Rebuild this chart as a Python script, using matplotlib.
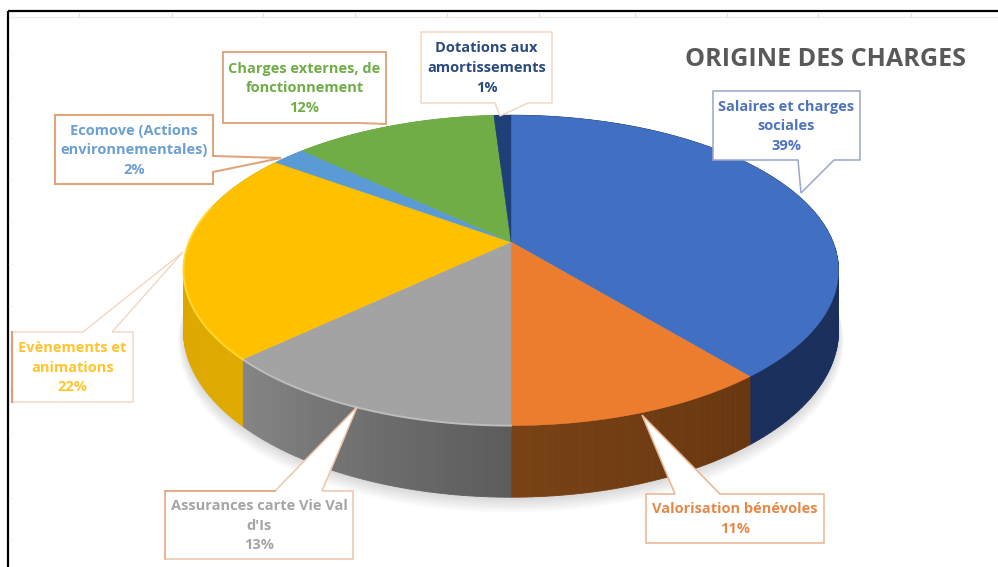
import numpy as np
import matplotlib
matplotlib.use("Agg")
import matplotlib.pyplot as plt
from matplotlib.colors import to_rgb
from matplotlib.patches import Polygon

categories = ["Salaires et charges\nsociales", "Valorisation bénévoles",
              "Assurances carte Vie Val\nd'Is", "Evènements et\nanimations",
              "Ecomove (Actions\nenvironnementales)", "Charges externes, de\nfonctionnement",
              "Dotations aux\namortissements"]
shares = [39, 11, 13, 22, 2, 12, 1]
top_colors = ["#4170C2", "#ED7D2E", "#A3A3A3", "#FFC000", "#5B9BD5", "#70AD47", "#1F3F78"]
text_colors = ["#4F74BC", "#E5894A", "#A5A5A5", "#FFC42E", "#6C9FD4", "#70AD47", "#2B4A80"]
side_start = ["#1A2F5C", "#683710", "#5C5C5C", "#E0AB00", "#5B9BD5", "#70AD47", "#1F3F78"]
side_end = ["#1A2F5C", "#7A4216", "#868686", "#D8A400", "#5B9BD5", "#70AD47", "#1F3F78"]
title = "ORIGINE DES CHARGES"

W, H = 998, 567
CX, CY, RX, RY, K, DROP = 511, 242, 322, 150, 0.183, 58.5


def project(theta, drop=0.0, scale=1.0):
    X, Y = np.sin(theta) * scale, np.cos(theta) * scale
    w = 1 + K * Y
    return CX + RX * X / w, CY - RY * Y / w + drop / w


fig = plt.figure(figsize=(W / 100, H / 100), dpi=100)
ax = fig.add_axes([0, 0, 1, 1])
ax.set_xlim(0, W)
ax.set_ylim(H, 0)
ax.axis("off")
FONT = "Open Sans"

# worksheet behind the chart
ax.plot([8, W], [11, 11], color="black", lw=1.6, solid_capstyle="butt", zorder=1)
ax.plot([8, 8], [11, H], color="black", lw=1.6, solid_capstyle="butt", zorder=1)
ax.plot([10, W], [16.5, 16.5], color="#EBEBEB", lw=0.9, zorder=1)
for gx in [79, 172, 263, 355, 447, 539, 635, 727, 818, 911]:
    ax.plot([gx, gx], [12, 17], color="#E4E4E4", lw=0.8, zorder=1)
for gy in [54, 97, 138, 180, 222, 264, 306, 348, 390, 433, 498, 540]:
    ax.plot([9, 13], [gy, gy], color="#F2F2F2", lw=0.8, zorder=1)

# soft shadow
full = np.linspace(0, 2 * np.pi, 361)
for i in range(8):
    sx, sy = project(full, drop=DROP + 1 + i * 1.2, scale=1.0 + i * 0.0022)
    ax.fill(sx, sy, color="black", alpha=0.018, lw=0, zorder=2)

edges = np.concatenate([[0], np.cumsum(shares)]) / np.sum(shares) * 2 * np.pi

# rim of the disc
for lo, hi, c0, c1 in zip(edges[:-1], edges[1:], side_start, side_end):
    n = max(2, int(np.degrees(hi - lo)))
    ts = np.linspace(lo, hi, n + 1)
    c0, c1 = np.array(to_rgb(c0)), np.array(to_rgb(c1))
    for j in range(n):
        a, b = ts[j], ts[j + 1]
        xa, ya = project(a)
        xb, yb = project(b)
        xc, yc = project(b, DROP)
        xd, yd = project(a, DROP)
        shade = c0 + (c1 - c0) * j / n
        ax.add_patch(Polygon([(xa, ya), (xb, yb), (xc, yc), (xd, yd)], closed=True,
                             facecolor=shade, edgecolor=shade, lw=0.6, zorder=3))

# top face
for lo, hi, col in zip(edges[:-1], edges[1:], top_colors):
    ts = np.linspace(lo, hi, max(3, int(np.degrees(hi - lo)) + 1))
    px, py = project(ts)
    ax.fill(np.r_[CX, px], np.r_[CY, py], facecolor=col, edgecolor=col, lw=0.3, zorder=4)

# bevel highlight on the grey and yellow slices
for idx, col in [(2, "#BDBDBD"), (3, "#FFD633")]:
    ts = np.linspace(edges[idx], edges[idx + 1], 80)
    ts = ts[np.cos(ts) < 0.25]
    px, py = project(ts)
    ax.plot(px, py, color=col, lw=1.4, zorder=5)

# callouts: outline (x0, y0, x1, y1), anchor base and pointer in pixels
boxes = [
    dict(box=(713, 91, 860, 160), side="bottom", base=(798, 834), tip=(801, 193), edge="#9AA6C8", lw=1.1),
    dict(box=(646, 494, 824, 543), side="top", base=(675, 720), tip=(642, 415), edge="#E8B48E", lw=1.1),
    dict(box=(165, 491, 353, 559), side="top", base=(275, 322), tip=(357, 407), edge="#EDC6AA", lw=1.1),
    dict(box=(12, 332, 133, 402), side="top", base=(83, 112), tip=(183, 252), edge="#F2D6C2", lw=1.0),
    dict(box=(55, 115, 213, 184), side="right", base=(156, 172), tip=(281, 158), edge="#DFA67E", lw=1.5),
    dict(box=(223, 52, 386, 123), side="bottom", base=(358, 386), tip=(386, 124), edge="#DFA67E", lw=1.4),
    dict(box=(421, 32, 552, 103), side="bottom", base=(495, 528), tip=(500, 116), edge="#F3D3BC", lw=1.0),
]
for cat, share, col, b in zip(categories, shares, text_colors, boxes):
    x0, y0, x1, y1 = b["box"]
    p, q = b["base"]
    if b["side"] == "bottom":
        pts = [(x0, y0), (x1, y0), (x1, y1), (q, y1), b["tip"], (p, y1), (x0, y1)]
    elif b["side"] == "top":
        pts = [(x0, y0), (p, y0), b["tip"], (q, y0), (x1, y0), (x1, y1), (x0, y1)]
    else:
        pts = [(x0, y0), (x1, y0), (x1, p), b["tip"], (x1, q), (x1, y1), (x0, y1)]
    ax.add_patch(Polygon(pts, closed=True, facecolor="white", edgecolor=b["edge"],
                         lw=b["lw"], joinstyle="miter", zorder=6))
    ax.text((x0 + x1) / 2, (y0 + y1) / 2 + 0.5, f"{cat}\n{share}%", ha="center", va="center",
            color=col, fontsize=10.5, fontweight="bold", family=FONT, linespacing=1.5, zorder=7)

# stronger strokes that survive in the picture
ax.plot([12, 12], [332, 402], color="#D9A27C", lw=1.6, zorder=8)
ax.plot([165, 165], [491, 559], color="#E8B48E", lw=1.3, zorder=8)
ax.plot([165, 275], [491, 491], color="#E3A982", lw=1.3, zorder=8)

ax.text(825.5, 59, title, ha="center", va="center", color="#595959",
        fontsize=18.1, fontweight="bold", family=FONT, zorder=7)

fig.savefig("out.png", dpi=100, facecolor="white")
